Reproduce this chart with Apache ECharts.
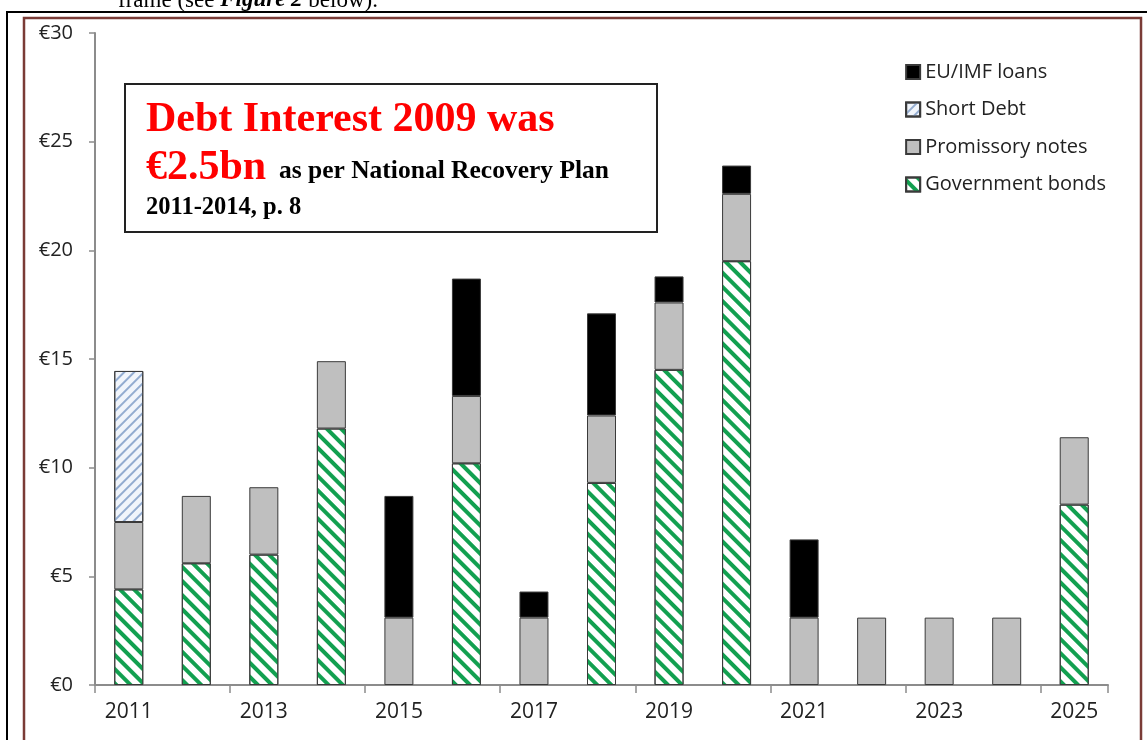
<!DOCTYPE html>
<html>
<head>
<meta charset="utf-8">
<script src="https://cdn.jsdelivr.net/npm/echarts@6/dist/echarts.min.js"></script>
<style>
  html, body { margin: 0; padding: 0; background: #fff; }
  #main { width: 1147px; height: 740px; }
</style>
</head>
<body>
<div id="main"></div>
<script>
// 数据
var years = ['2011', '2012', '2013', '2014', '2015', '2016', '2017', '2018', '2019', '2020', '2021', '2022', '2023', '2024', '2025'];
var govBonds   = [4.4, 5.6, 6.0, 11.8, 0, 10.2, 0, 9.3, 14.5, 19.5, 0, 0, 0, 0, 8.3];
var promNotes  = [3.1, 3.1, 3.1, 3.1, 3.1, 3.1, 3.1, 3.1, 3.1, 3.1, 3.1, 3.1, 3.1, 3.1, 3.1];
var shortDebt  = [6.95, 0, 0, 0, 0, 0, 0, 0, 0, 0, 0, 0, 0, 0, 0];
var euImf      = [0, 0, 0, 0, 5.6, 5.4, 1.2, 4.7, 1.2, 1.3, 3.6, 0, 0, 0, 0];

var myChart = echarts.init(document.getElementById('main'));

var labelFont = "'Open Sans', 'DejaVu Sans', sans-serif";
var serif = "'Liberation Serif', 'DejaVu Serif', serif";
var border = { borderColor: '#3a3a3a', borderWidth: 1 };

function nz(arr) {
  return arr.map(function (v) { return v === 0 ? '-' : v; });
}

var option = {
  backgroundColor: '#fff',
  animation: false,
  grid: { left: 95, right: 39, top: 33, bottom: 55, containLabel: false },
  legend: {
    orient: 'vertical',
    right: 36,
    top: 57,
    icon: 'rect',
    itemWidth: 14,
    itemHeight: 14,
    itemGap: 17.5,
    data: ['EU/IMF loans', 'Short Debt', 'Promissory notes', 'Government bonds'],
    textStyle: { fontFamily: labelFont, fontSize: 20, color: '#222' }
  },
  xAxis: {
    type: 'category',
    data: years,
    axisLine: { lineStyle: { color: '#8c8c8c', width: 2 } },
    axisTick: { show: true, interval: 1, length: 8, lineStyle: { color: '#8c8c8c', width: 1.5 } },
    axisLabel: { interval: 1, margin: 17, fontFamily: labelFont, fontSize: 21, color: '#222' },
    splitLine: { show: false }
  },
  yAxis: {
    type: 'value',
    min: 0,
    max: 30,
    interval: 5,
    axisLine: { show: true, lineStyle: { color: '#8c8c8c', width: 2 } },
    axisTick: { show: true, length: 6, lineStyle: { color: '#8c8c8c', width: 1.5 } },
    axisLabel: {
      margin: 22, fontFamily: labelFont, fontSize: 20, color: '#222',
      formatter: function (v) { return '€' + v; }
    },
    splitLine: { show: false }
  },
  series: [
    {
      name: 'Government bonds',
      type: 'bar',
      stack: 'debt',
      barWidth: 29,
      data: nz(govBonds),
      itemStyle: Object.assign({
        color: '#ffffff',
        decal: {
          symbol: 'rect',
          color: '#12a050',
          dashArrayX: [1, 0],
          dashArrayY: [4, 6],
          rotation: Math.PI / 4
        }
      }, border)
    },
    {
      name: 'Promissory notes',
      type: 'bar',
      stack: 'debt',
      data: nz(promNotes),
      itemStyle: Object.assign({ color: '#bfbfbf' }, border)
    },
    {
      name: 'Short Debt',
      type: 'bar',
      stack: 'debt',
      data: nz(shortDebt),
      itemStyle: Object.assign({
        color: '#f1f5fb',
        decal: {
          symbol: 'rect',
          color: '#93acd0',
          dashArrayX: [1, 0],
          dashArrayY: [1.3, 4.5],
          rotation: -Math.PI / 4
        }
      }, border)
    },
    {
      name: 'EU/IMF loans',
      type: 'bar',
      stack: 'debt',
      data: nz(euImf),
      itemStyle: Object.assign({ color: '#000000' }, border)
    }
  ],
  graphic: [
    // page frame
    { type: 'rect', shape: { x: 7, y: 12, width: 1170, height: 760 }, style: { fill: 'none', stroke: '#000', lineWidth: 2 }, silent: true },
    { type: 'rect', shape: { x: 24, y: 18, width: 1117, height: 760 }, style: { fill: 'none', stroke: '#7a3b36', lineWidth: 2.5 }, silent: true },
    {
      type: 'text', left: 118, top: -11, silent: true,
      style: {
        text: '{n|frame (see }{b|Figure 2}{n| below).}',
        rich: {
          n: { fontFamily: serif, fontSize: 23, fill: '#000' },
          b: { fontFamily: serif, fontSize: 23, fontWeight: 'bold', fontStyle: 'italic', fill: '#000' }
        }
      }
    },
    // annotation box
    { type: 'rect', shape: { x: 125, y: 84, width: 532, height: 148 }, style: { fill: '#fff', stroke: '#222', lineWidth: 2 }, z: 100, silent: true },
    {
      type: 'text', left: 146, top: 99, z: 101, silent: true,
      style: {
        text: 'Debt Interest 2009 was',
        fontFamily: serif, fontSize: 42, fontWeight: 'bold', fill: '#ff0000'
      }
    },
    {
      type: 'text', left: 146, top: 147, z: 101, silent: true,
      style: {
        text: '{r|€2.5bn}{k|  as per National Recovery Plan}',
        rich: {
          r: { fontFamily: serif, fontSize: 42, fontWeight: 'bold', fill: '#ff0000', verticalAlign: 'bottom' },
          k: { fontFamily: serif, fontSize: 25.5, fontWeight: 'bold', fill: '#000', verticalAlign: 'bottom', padding: [0, 0, 5, 0] }
        }
      }
    },
    {
      type: 'text', left: 146, top: 195, z: 101, silent: true,
      style: {
        text: '2011-2014, p. 8',
        fontFamily: serif, fontSize: 24.5, fontWeight: 'bold', fill: '#000'
      }
    }
  ]
};

myChart.setOption(option);
window.addEventListener('resize', function () {
  if (myChart) { myChart.resize(); }
});
</script>
</body>
</html>
